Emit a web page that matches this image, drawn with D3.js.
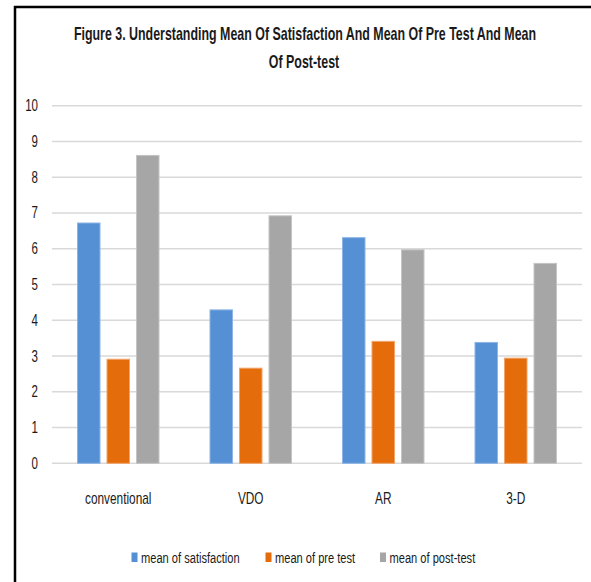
<!DOCTYPE html>
<html>
<head>
<meta charset="utf-8">
<script src="https://cdn.jsdelivr.net/npm/d3@7"></script>
<style>
  html, body { margin: 0; padding: 0; background: #fff; }
  svg text { font-family: "Liberation Sans", Arial, sans-serif; fill: #1a1a1a; }
</style>
</head>
<body>
<svg id="chart" width="591" height="582"></svg>
<script>
const categories = ["conventional", "VDO", "AR", "3-D"];
const seriesNames = ["mean of satisfaction", "mean of pre test", "mean of post-test"];
const satisfaction = [6.72, 4.29, 6.31, 3.38];
const preTest = [2.91, 2.66, 3.41, 2.94];
const postTest = [8.61, 6.92, 5.97, 5.59];
const yTicks = [0, 1, 2, 3, 4, 5, 6, 7, 8, 9, 10];
const titleLines = ["Figure 3. Understanding Mean Of Satisfaction And Mean Of Pre Test And Mean", "Of Post-test"];

const seriesValues = [satisfaction, preTest, postTest];
const colors = ["#5590D5", "#E46C0A", "#A6A6A6"];
const strokes = ["#8DB4E6", "#F2A36A", "#C4C4C4"];

const svg = d3.select("#chart");
const SX = 0.74; // horizontal compression to mimic condensed font

// frame lines
svg.append("line").attr("x1", 15).attr("x2", 15).attr("y1", 6).attr("y2", 582)
  .attr("stroke", "#000").attr("stroke-width", 2.5);
svg.append("line").attr("x1", 14).attr("x2", 591).attr("y1", 7).attr("y2", 7)
  .attr("stroke", "#000").attr("stroke-width", 2.5);

const x = d3.scaleBand().domain(categories).range([52, 582]).paddingInner(0).paddingOuter(0);
const x1 = d3.scaleBand().domain(seriesNames)
  .range([x.bandwidth() / 2 - 40.75, x.bandwidth() / 2 + 40.75]).paddingInner(0.237).paddingOuter(0);
const y = d3.scaleLinear().domain([0, 10]).range([463.3, 105.7]);

// gridlines
svg.append("g").selectAll("line").data(yTicks).join("line")
  .attr("x1", 52).attr("x2", 582)
  .attr("y1", d => y(d)).attr("y2", d => y(d))
  .attr("stroke", "#d9d9d9").attr("stroke-width", 1.5);

// y labels
svg.append("g").selectAll("text").data(yTicks).join("text")
  .attr("transform", d => `translate(38,${y(d) + 5.5}) scale(0.72,1)`)
  .attr("text-anchor", "end").attr("font-size", 16)
  .text(d => d);

// bars
const groups = svg.append("g").selectAll("g").data(categories).join("g")
  .attr("transform", d => `translate(${x(d)},0)`);
groups.selectAll("rect")
  .data((c, ci) => seriesNames.map((s, si) => ({ s, si, v: seriesValues[si][ci] })))
  .join("rect")
  .attr("x", d => x1(d.s))
  .attr("width", x1.bandwidth())
  .attr("y", d => y(d.v))
  .attr("height", d => y(0) - y(d.v))
  .attr("fill", d => colors[d.si])
  .attr("stroke", d => strokes[d.si])
  .attr("stroke-width", 1);

// x labels
svg.append("g").selectAll("text").data(categories).join("text")
  .attr("transform", d => `translate(${x(d) + x.bandwidth() / 2},504) scale(${SX},1)`)
  .attr("text-anchor", "middle").attr("font-size", 16)
  .text(d => d);

// title
const t = svg.append("g");
t.append("text").attr("transform", `translate(305,40) scale(0.71,1)`)
  .attr("text-anchor", "middle").attr("font-size", 17.5).attr("font-weight", "bold")
  .text(titleLines[0]);
t.append("text").attr("transform", `translate(304,68) scale(0.71,1)`)
  .attr("text-anchor", "middle").attr("font-size", 17.5).attr("font-weight", "bold")
  .text(titleLines[1]);

// legend
const legendX = [131.5, 265.5, 380];
const leg = svg.append("g").selectAll("g").data(seriesNames).join("g")
  .attr("transform", (d, i) => `translate(${legendX[i]},0)`);
leg.append("rect").attr("x", 0).attr("y", 552.5).attr("width", 6).attr("height", 9.5)
  .attr("fill", (d, i) => colors[i]);
leg.append("text").attr("transform", `translate(9.5,562.5) scale(${SX},1)`)
  .attr("font-size", 15).text(d => d);
</script>
</body>
</html>
